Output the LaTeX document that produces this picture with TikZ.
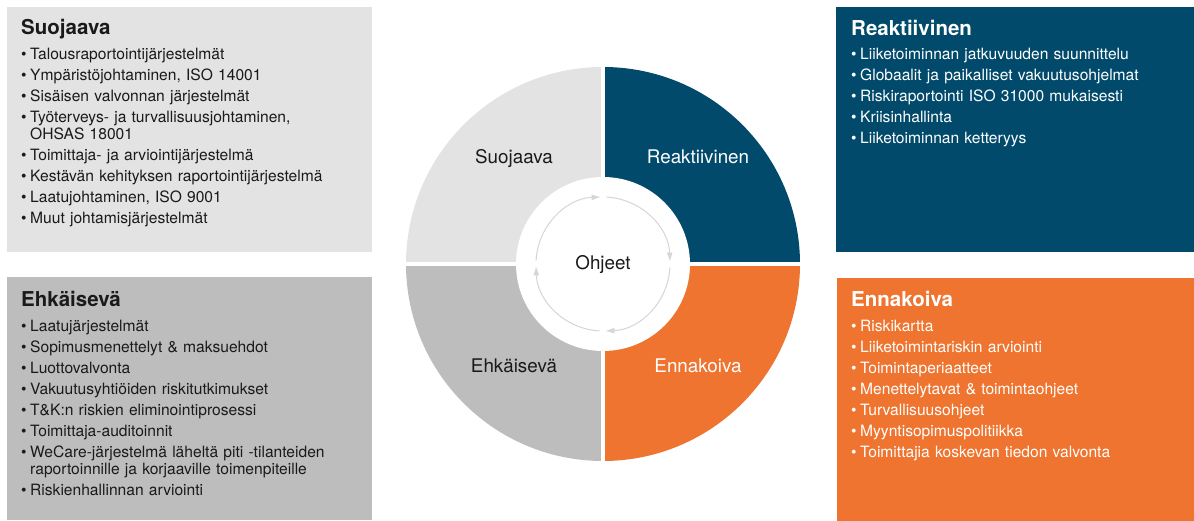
\documentclass[tikz,border=0pt]{standalone}
\usepackage{fontspec}
\setmainfont{TeX Gyre Heros}
\usetikzlibrary{arrows.meta,positioning}
\definecolor{lgrey}{RGB}{227,227,227}
\definecolor{mgrey}{RGB}{189,189,189}
\definecolor{navy}{RGB}{1,74,107}
\definecolor{rorange}{RGB}{238,116,47}
\definecolor{arcgrey}{RGB}{214,214,214}
\definecolor{ink}{RGB}{26,26,26}
\newcommand{\itm}{\makebox[9pt][l]{\textbullet}}
\newcommand{\ind}{\hspace*{9pt}}
\newcommand{\nx}{\\[4pt]}
\tikzstyle{box} = [rectangle, inner sep=0pt, anchor=north west]
\tikzstyle{head} = [anchor=base west, inner sep=0pt, font=\bfseries\fontsize{20.5}{22}\selectfont]
\tikzstyle{items} = [anchor=base west, inner sep=0pt, text width=345pt, align=left, font=\fontsize{15.6}{17}\selectfont]
\tikzstyle{seg} = [anchor=base, inner sep=0pt, font=\fontsize{18.8}{20}\selectfont]
\tikzstyle{cyc} = [draw=arcgrey, line width=1pt, -{Latex[length=9pt,width=6pt]}]

\begin{document}
\begin{tikzpicture}[x=1pt, y=1pt]
    \useasboundingbox (0,0) rectangle (1194,521);
    % boxes
    \node[box, fill=lgrey, minimum width=365pt, minimum height=245pt] (sq) at (7,514) {};
    \node[box, fill=mgrey, minimum width=365pt, minimum height=243pt] (ek) at (7,244) {};
    \node[box, fill=navy, minimum width=358pt, minimum height=245pt] (re) at (836,514) {};
    \node[box, fill=rorange, minimum width=357pt, minimum height=243pt] (en) at (837,243) {};

    \node[head, text=ink] (sqh) at ([xshift=14pt, yshift=-28pt]sq.north west) {Suojaava};
    \node[items, text=ink] (sql) at ([xshift=14pt, yshift=-52.5pt]sq.north west) {%
        \itm Talousraportointijärjestelmät\nx
        \itm Ympäristöjohtaminen, ISO 14001\nx
        \itm Sisäisen valvonnan järjestelmät\nx
        \itm Työterveys- ja turvallisuusjohtaminen,\\
        \ind OHSAS 18001\nx
        \itm Toimittaja- ja arviointijärjestelmä\nx
        \itm Kestävän kehityksen raportointijärjestelmä\nx
        \itm Laatujohtaminen, ISO 9001\nx
        \itm Muut johtamisjärjestelmät};

    \node[head, text=ink] (ekh) at ([xshift=14pt, yshift=-30pt]ek.north west) {Ehkäisevä};
    \node[items, text=ink] (ekl) at ([xshift=14pt, yshift=-54.5pt]ek.north west) {%
        \itm Laatujärjestelmät\nx
        \itm Sopimusmenettelyt \& maksuehdot\nx
        \itm Luottovalvonta\nx
        \itm Vakuutusyhtiöiden riskitutkimukset\nx
        \itm T\&K:n riskien eliminointiprosessi\nx
        \itm Toimittaja-auditoinnit\nx
        \itm WeCare-järjestelmä läheltä piti -tilanteiden\\
        \ind raportoinnille ja korjaaville toimenpiteille\nx
        \itm Riskienhallinnan arviointi};

    \node[head, text=white] (reh) at ([xshift=15pt, yshift=-29pt]re.north west) {Reaktiivinen};
    \node[items, text=white] (rel) at ([xshift=15pt, yshift=-52.5pt]re.north west) {%
        \itm Liiketoiminnan jatkuvuuden suunnittelu\nx
        \itm Globaalit ja paikalliset vakuutusohjelmat\nx
        \itm Riskiraportointi ISO 31000 mukaisesti\nx
        \itm Kriisinhallinta\nx
        \itm Liiketoiminnan ketteryys};

    \node[head, text=white] (enh) at ([xshift=14pt, yshift=-29pt]en.north west) {Ennakoiva};
    \node[items, text=white] (enl) at ([xshift=14pt, yshift=-53.5pt]en.north west) {%
        \itm Riskikartta\nx
        \itm Liiketoimintariskin arviointi\nx
        \itm Toimintaperiaatteet\nx
        \itm Menettelytavat \& toimintaohjeet\nx
        \itm Turvallisuusohjeet\nx
        \itm Myyntisopimuspolitiikka\nx
        \itm Toimittajia koskevan tiedon valvonta};

    % wheel
    \coordinate (c) at (603,257);
    \fill[lgrey] (c) -- ++(180:197) arc[start angle=180, end angle=90, radius=197] -- cycle;
    \fill[navy] (c) -- ++(90:197) arc[start angle=90, end angle=0, radius=197] -- cycle;
    \fill[rorange] (c) -- ++(0:197) arc[start angle=0, end angle=-90, radius=197] -- cycle;
    \fill[mgrey] (c) -- ++(-90:197) arc[start angle=-90, end angle=-180, radius=197] -- cycle;
    \draw[white, line width=4pt] ([xshift=-200pt]c) -- ([xshift=200pt]c);
    \draw[white, line width=4pt] ([yshift=-200pt]c) -- ([yshift=200pt]c);
    \fill[white] (c) circle (87);
    \foreach \k in {0,1,2,3}
        \draw[cyc] (c) ++({177-90*\k}:67) arc[start angle={177-90*\k}, end angle={92-90*\k}, radius=67];

    \node[seg, text=ink] (ohj) at ([yshift=-6pt]c) {Ohjeet};
    \node[seg, text=ink] (sqs) at ([xshift=-89pt, yshift=100pt]c) {Suojaava};
    \node[seg, text=white] (res) at ([xshift=95pt, yshift=100pt]c) {Reaktiivinen};
    \node[seg, text=ink] (eks) at ([xshift=-89pt, yshift=-109pt]c) {Ehkäisevä};
    \node[seg, text=white] (ens) at ([xshift=95pt, yshift=-109pt]c) {Ennakoiva};
\end{tikzpicture}
\end{document}
